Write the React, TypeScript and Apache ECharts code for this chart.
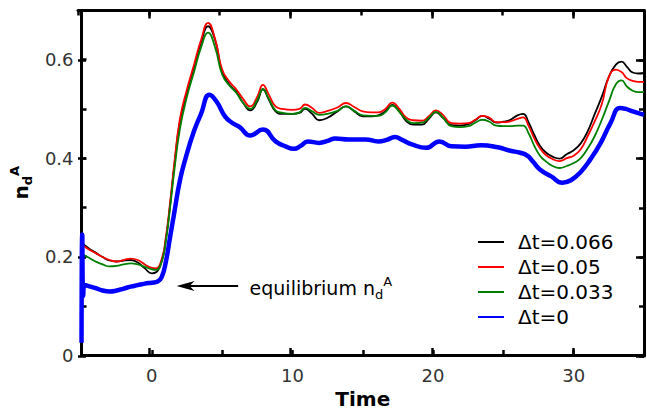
import React, { useEffect, useRef } from "react";
import * as echarts from "echarts";

// ---- data ----
const tThin = [
  -5, -4.5, -4, -3.5, -3, -2.5, -2, -1.5, -1, -0.5,
  0, 0.3, 0.7,
  1.0, 1.3, 1.6,
  2.0, 2.5, 3.0, 3.5, 4.0, 4.5, 5.0, 5.5, 6.0, 6.5, 7.0,
  7.5, 7.9, 8.3, 8.8, 9.3,
  10.0, 10.5, 10.9, 11.4, 11.9,
  12.5, 13.2, 13.8, 14.4, 15.0,
  15.6, 16.1, 16.6, 17.1, 17.6,
  18.1, 18.6, 19.2, 19.7, 20.2,
  20.7, 21.3, 21.9, 22.5, 23.0,
  23.5, 24.0, 24.5, 25.0, 25.5,
  26.0, 26.4, 26.8, 27.2, 27.6,
  28.0, 28.5, 29.0, 29.5, 30.0,
  30.5, 31.0, 31.5, 32.0, 32.5,
  33.0, 33.4, 33.8, 34.2, 34.6, 35.0,
];
const vBlack = [
  0.228, 0.217, 0.208, 0.199, 0.192, 0.19, 0.192, 0.193, 0.188, 0.176,
  0.166, 0.168, 0.19,
  0.235, 0.305, 0.385,
  0.475, 0.535, 0.585, 0.635, 0.668, 0.64, 0.575, 0.55, 0.535, 0.512, 0.497,
  0.515, 0.54, 0.52, 0.495, 0.49,
  0.49, 0.492, 0.5, 0.49, 0.477,
  0.482, 0.495, 0.505, 0.495, 0.485,
  0.485, 0.487, 0.495, 0.508, 0.495,
  0.475, 0.468, 0.468, 0.48, 0.493,
  0.482, 0.467, 0.466, 0.469, 0.477,
  0.486, 0.48, 0.472, 0.474, 0.478,
  0.487, 0.49, 0.472, 0.447, 0.425,
  0.412, 0.403, 0.399, 0.408, 0.416,
  0.43, 0.455, 0.49, 0.525, 0.565,
  0.59, 0.596, 0.585, 0.574, 0.572, 0.573,
];
const vRed = [
  0.225, 0.215, 0.207, 0.199, 0.193, 0.19, 0.193, 0.196, 0.193, 0.184,
  0.177, 0.176, 0.195,
  0.24, 0.31, 0.39,
  0.48, 0.54, 0.59, 0.64, 0.675, 0.642, 0.58, 0.556, 0.54, 0.52, 0.505,
  0.525, 0.549, 0.53, 0.505, 0.5,
  0.498, 0.5, 0.509, 0.502, 0.492,
  0.496, 0.503, 0.512, 0.504, 0.495,
  0.493, 0.493, 0.5, 0.513, 0.5,
  0.482, 0.477, 0.476, 0.485, 0.497,
  0.488, 0.471, 0.47, 0.471, 0.478,
  0.486, 0.482, 0.473, 0.473, 0.475,
  0.48, 0.483, 0.465, 0.44, 0.42,
  0.407, 0.398, 0.394, 0.4, 0.405,
  0.418, 0.445, 0.475, 0.51, 0.565,
  0.58, 0.575, 0.562, 0.557, 0.555, 0.555,
];
const vGreen = [
  0.205, 0.198, 0.19, 0.184, 0.18, 0.181, 0.184, 0.186, 0.184, 0.179,
  0.174, 0.173, 0.19,
  0.232, 0.3, 0.375,
  0.46, 0.525, 0.575, 0.625, 0.655, 0.625, 0.57, 0.548, 0.533, 0.512, 0.5,
  0.518, 0.54, 0.522, 0.497, 0.492,
  0.49, 0.493, 0.502, 0.495, 0.488,
  0.49, 0.496, 0.505, 0.496, 0.487,
  0.486, 0.486, 0.493, 0.507, 0.494,
  0.478, 0.471, 0.472, 0.482, 0.494,
  0.483, 0.465, 0.463, 0.465, 0.472,
  0.478, 0.474, 0.466, 0.465, 0.465,
  0.466, 0.466, 0.45, 0.425, 0.405,
  0.394, 0.384, 0.38, 0.384, 0.39,
  0.4, 0.42, 0.445, 0.478, 0.515,
  0.55, 0.558, 0.545, 0.537, 0.534, 0.534,
];
const tBlue = [
  -5, -4.95, -4.88, -4.8, -4.5, -4, -3.5, -3, -2.5, -2, -1.5, -1, -0.5,
  0, 0.4, 0.7, 1.0, 1.3, 1.6, 2.0, 2.4, 3.0, 3.5, 4.1, 4.6, 5.2, 5.7,
  6.25, 7.0, 7.9, 8.8, 9.5, 10.1, 10.6, 11.1, 11.9, 12.5, 13.05, 14.0,
  15.2, 16.1, 16.7, 17.3, 17.8, 18.5, 19.5, 20.45, 21.3, 22.3, 23.4,
  24.6, 25.5, 26.2, 26.7, 27.1, 27.6, 28.4, 29.2, 29.8, 30.5, 31.2,
  31.9, 32.6, 33.3, 33.7, 34.2, 35.0,
];
const vBlue = [
  0.025, 0.245, 0.12, 0.142, 0.14, 0.136, 0.131, 0.129, 0.131, 0.135, 0.139, 0.142, 0.145,
  0.147, 0.149, 0.158, 0.19, 0.24, 0.29, 0.355, 0.4, 0.455, 0.49, 0.529, 0.515, 0.485, 0.472,
  0.463, 0.446, 0.458, 0.434, 0.424, 0.419, 0.425, 0.434, 0.431, 0.435, 0.44, 0.438,
  0.438, 0.434, 0.437, 0.443, 0.437, 0.428, 0.421, 0.434, 0.424, 0.423, 0.426,
  0.422, 0.415, 0.411, 0.405, 0.393, 0.377, 0.363, 0.35, 0.355, 0.372, 0.398,
  0.43, 0.47, 0.502, 0.5, 0.495, 0.488,
];
const seriesNames = ["Δt=0.066", "Δt=0.05", "Δt=0.033", "Δt=0"];
const seriesColors = ["#000000", "#ff0000", "#008000", "#0000ff"];
const xLabelValues = [0, 10, 20, 30];
const yLabelValues = [0, 0.2, 0.4, 0.6];
const arrowTail = [6.14, 0.14];
const arrowTip = [1.76, 0.14];
const noteAt = [6.95, 0.14];

const FONT = "DejaVu Sans";

export default function App() {
  const ref = useRef<HTMLDivElement>(null);
  useEffect(() => {
    if (!ref.current) return;
    const chart = echarts.init(ref.current, undefined, { renderer: "svg" });
    const gridBox = { left: 78, right: 3, top: 10.5, bottom: 58 };
    const line3 = { show: true, onZero: false, lineStyle: { color: "#000", width: 3 } };
    const noLine = { show: false, onZero: false };
    const shortTick = { show: true, inside: true, length: 5, lineStyle: { color: "#000", width: 2.5 } };
    const longTick = { show: true, inside: true, length: 8, lineStyle: { color: "#000", width: 2.5 } };
    const baseX = { type: "value", min: -5, max: 35, splitLine: { show: false }, silent: true };
    const baseY = { type: "value", min: 0, max: 0.7, splitLine: { show: false }, silent: true };

    const xAxis: any[] = [
      {
        ...baseX, gridIndex: 0, position: "bottom", interval: 5,
        axisLine: line3, axisTick: shortTick,
        axisLabel: {
          show: true, margin: 11, fontSize: 18, color: "#333", fontFamily: FONT,
          formatter: (v: number) => (xLabelValues.indexOf(Math.round(v)) >= 0 ? String(Math.round(v)) : ""),
        },
        name: "Time", nameLocation: "middle", nameGap: 34,
        nameTextStyle: { fontSize: 20, fontWeight: "bold", color: "#000", fontFamily: FONT },
      },
      { ...baseX, gridIndex: 1, position: "top", interval: 5, axisLine: line3, axisTick: shortTick, axisLabel: { show: false } },
      {
        type: "value", min: 0, max: 40, interval: 10, gridIndex: 2, position: "bottom", silent: true,
        splitLine: { show: false }, axisLine: noLine, axisTick: { show: false, inside: true },
        minorTick: { show: true, splitNumber: 2, length: 8, lineStyle: { color: "#000", width: 2.5 } },
        minorSplitLine: { show: false }, axisLabel: { show: false },
      },
      {
        type: "value", min: 0, max: 40, interval: 10, gridIndex: 3, position: "top", silent: true,
        splitLine: { show: false }, axisLine: noLine, axisTick: { show: false, inside: true },
        minorTick: { show: true, splitNumber: 2, length: 8, lineStyle: { color: "#000", width: 2.5 } },
        minorSplitLine: { show: false }, axisLabel: { show: false },
      },
    ];
    const yAxis: any[] = [
      {
        ...baseY, gridIndex: 0, position: "left", interval: 0.1,
        axisLine: line3, axisTick: shortTick,
        axisLabel: {
          show: true, margin: 8, fontSize: 18, color: "#333", fontFamily: FONT,
          formatter: (v: number) => {
            const hit = yLabelValues.find((y) => Math.abs(y - v) < 1e-6);
            return hit === undefined ? "" : hit === 0 ? "0" : hit.toFixed(1);
          },
        },
        name: "{n|n}{d|d}{a|A}", nameLocation: "middle", nameRotate: 90, nameGap: 44,
        nameTextStyle: {
          rich: {
            n: { fontSize: 20, fontWeight: "bold", color: "#000", fontFamily: FONT, lineHeight: 26, verticalAlign: "middle" },
            d: { fontSize: 13, fontWeight: "bold", color: "#000", fontFamily: FONT, lineHeight: 26, verticalAlign: "bottom" },
            a: { fontSize: 13, fontWeight: "bold", color: "#000", fontFamily: FONT, lineHeight: 26, verticalAlign: "top" },
          },
        },
      },
      { ...baseY, gridIndex: 1, position: "right", interval: 0.1, axisLine: line3, axisTick: shortTick, axisLabel: { show: false } },
      { ...baseY, gridIndex: 2, position: "left", interval: 0.2, axisLine: noLine, axisTick: longTick, axisLabel: { show: false } },
      { ...baseY, gridIndex: 3, position: "right", interval: 0.2, axisLine: noLine, axisTick: longTick, axisLabel: { show: false } },
    ];

    const thin = [vBlack, vRed, vGreen];
    const series: any[] = thin.map((vals, i) => ({
      type: "line", name: seriesNames[i], xAxisIndex: 0, yAxisIndex: 0,
      data: tThin.map((t, k) => [t, vals[k]]),
      smooth: 0.5, symbol: "none", showSymbol: false,
      lineStyle: { color: seriesColors[i], width: 1.8, join: "round" }, itemStyle: { color: seriesColors[i] },
    }));
    series.push({
      type: "line", name: seriesNames[3], xAxisIndex: 0, yAxisIndex: 0,
      data: tBlue.map((t, k) => [t, vBlue[k]]),
      smooth: 0.5, symbol: "none", showSymbol: false,
      lineStyle: { color: seriesColors[3], width: 4.5, join: "round" }, itemStyle: { color: seriesColors[3] },
    });

    chart.setOption({
      animation: false,
      backgroundColor: "#fff",
      grid: [gridBox, gridBox, gridBox, gridBox],
      xAxis,
      yAxis,
      legend: {
        orient: "vertical", left: 472, top: 227, padding: 5,
        itemWidth: 26, itemHeight: 14, itemGap: 5,
        itemStyle: { color: "rgba(0,0,0,0)", borderColor: "rgba(0,0,0,0)", borderWidth: 0, opacity: 0 },
        textStyle: { fontSize: 20, color: "#000", fontFamily: FONT, padding: [0, 0, 0, 9] },
        data: seriesNames,
        selectedMode: false,
      },
      series,
    });

    const finder = { xAxisIndex: 0, yAxisIndex: 0 };
    const tail = chart.convertToPixel(finder, arrowTail) as number[];
    const tip = chart.convertToPixel(finder, arrowTip) as number[];
    const note = chart.convertToPixel(finder, noteAt) as number[];
    chart.setOption({
      graphic: [
        {
          type: "line", silent: true,
          shape: { x1: tail[0], y1: tail[1], x2: tip[0] + 12, y2: tip[1] },
          style: { stroke: "#000", lineWidth: 2 },
        },
        {
          type: "polygon", silent: true,
          shape: { points: [[tip[0], tip[1]], [tip[0] + 18, tip[1] - 5], [tip[0] + 13, tip[1]], [tip[0] + 18, tip[1] + 5]] },
          style: { fill: "#000" },
        },
        {
          type: "text", silent: true, x: note[0], y: note[1] + 2,
          style: {
            text: "{e|equilibrium n}{s|d}{p|A}",
            align: "left", verticalAlign: "middle",
            rich: {
              e: { fontSize: 19, color: "#111", fontFamily: FONT, lineHeight: 26, verticalAlign: "middle" },
              s: { fontSize: 13, color: "#111", fontFamily: FONT, lineHeight: 26, verticalAlign: "bottom" },
              p: { fontSize: 13, color: "#111", fontFamily: FONT, lineHeight: 26, verticalAlign: "top" },
            },
          },
        },
      ],
    });

    return () => chart.dispose();
  }, []);
  return <div ref={ref} style={{ position: "fixed", left: 0, top: 0, width: 647, height: 414 }} />;
}
